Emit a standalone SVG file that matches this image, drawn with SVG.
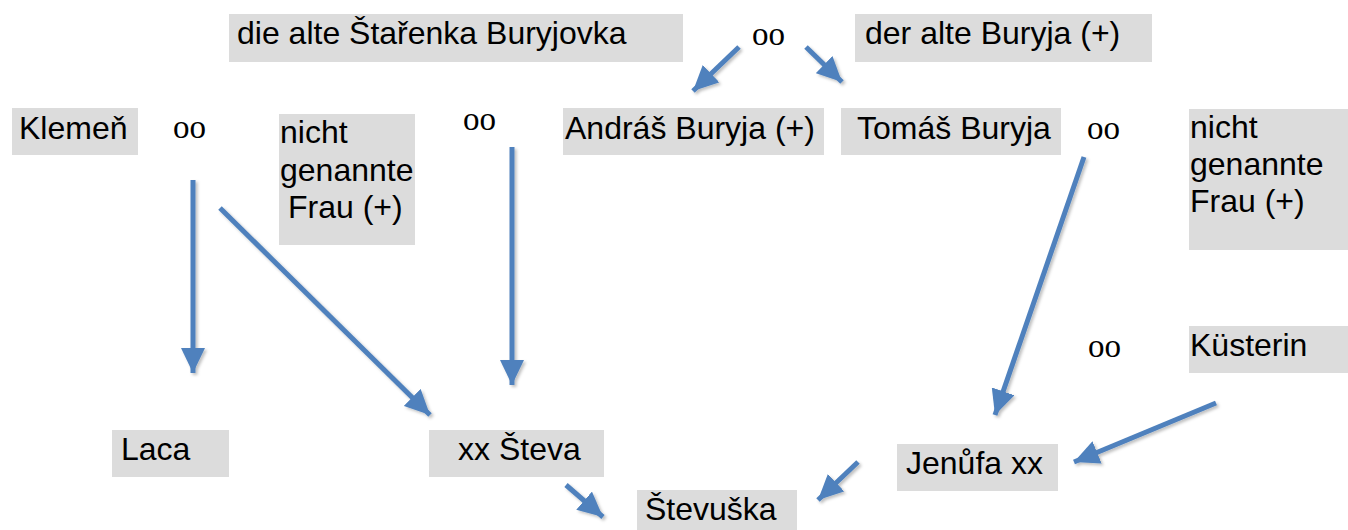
<svg xmlns="http://www.w3.org/2000/svg" width="1348" height="530" viewBox="0 0 1348 530">
<style>
.box{fill:#dcdcdc;}
.t{font-family:"Liberation Sans",Arial,sans-serif;font-size:32px;fill:#000;}
.oo{font-family:"Liberation Serif","Times New Roman",serif;font-size:33px;fill:#000;}
.c line{stroke:#4f81bd;stroke-width:5;marker-end:url(#ah);filter:url(#sh);}
</style>
<defs>
<marker id="ah" markerUnits="userSpaceOnUse" markerWidth="26" markerHeight="24" refX="25" refY="12" orient="auto">
<path d="M0,0 L25,12 L0,24 z" fill="#4f81bd"/>
</marker>
<filter id="sh" filterUnits="userSpaceOnUse" x="0" y="0" width="1348" height="530">
<feDropShadow dx="2" dy="2" stdDeviation="1.5" flood-color="#000" flood-opacity="0.25"/>
</filter>
</defs>
<rect width="1348" height="530" fill="#fff"/>
<g id="staruenka"><rect class="box" x="229" y="14" width="454" height="48"/><text class="t" x="237" y="44">die alte Štařenka Buryjovka</text></g>
<g id="oo1"><text class="oo" x="752" y="45">oo</text></g>
<g id="buryja"><rect class="box" x="855" y="14" width="297" height="48"/><text class="t" x="865" y="44">der alte Buryja (+)</text></g>
<g id="andras"><rect class="box" x="563" y="108" width="261" height="47"/><text class="t" x="565" y="139">Andráš Buryja (+)</text></g>
<g id="tomas"><rect class="box" x="841" y="108" width="220" height="47"/><text class="t" x="857" y="139">Tomáš Buryja</text></g>
<g id="oo2"><text class="oo" x="1087" y="139">oo</text></g>
<g id="frau2"><rect class="box" x="1189" y="109" width="159" height="141"/><text class="t" x="1190" y="138">nicht</text><text class="t" x="1190" y="175">genannte</text><text class="t" x="1190" y="212">Frau (+)</text></g>
<g id="klemen"><rect class="box" x="12" y="108" width="126" height="47"/><text class="t" x="19" y="139">Klemeň</text></g>
<g id="oo3"><text class="oo" x="173" y="138">oo</text></g>
<g id="frau1"><rect class="box" x="279" y="114" width="136" height="131"/><text class="t" x="280" y="143">nicht</text><text class="t" x="280" y="181">genannte</text><text class="t" x="288" y="218">Frau (+)</text></g>
<g id="oo4"><text class="oo" x="463" y="130">oo</text></g>
<g id="laca"><rect class="box" x="112" y="430" width="117" height="47"/><text class="t" x="121" y="460">Laca</text></g>
<g id="steva"><rect class="box" x="429" y="430" width="175" height="47"/><text class="t" x="458" y="460">xx Števa</text></g>
<g id="stevuska"><rect class="box" x="637" y="490" width="160" height="40"/><text class="t" x="645" y="520">Števuška</text></g>
<g id="jenufa"><rect class="box" x="897" y="444" width="161" height="47"/><text class="t" x="906" y="474">Jenůfa xx</text></g>
<g id="oo5"><text class="oo" x="1088" y="357">oo</text></g>
<g id="kusterin"><rect class="box" x="1189" y="326" width="159" height="47"/><text class="t" x="1190" y="356">Küsterin</text></g>
<g id="connectors" class="c">
<line x1="739" y1="47" x2="693" y2="91"/>
<line x1="806" y1="47" x2="842" y2="82"/>
<line x1="193" y1="180" x2="193" y2="373"/>
<line x1="220" y1="208" x2="430" y2="415"/>
<line x1="512" y1="147" x2="512" y2="385"/>
<line x1="1084" y1="157" x2="995" y2="415"/>
<line x1="1216" y1="403" x2="1074" y2="462"/>
<line x1="858" y1="462" x2="818" y2="500"/>
<line x1="566" y1="485" x2="603" y2="517"/>
</g>
</svg>
